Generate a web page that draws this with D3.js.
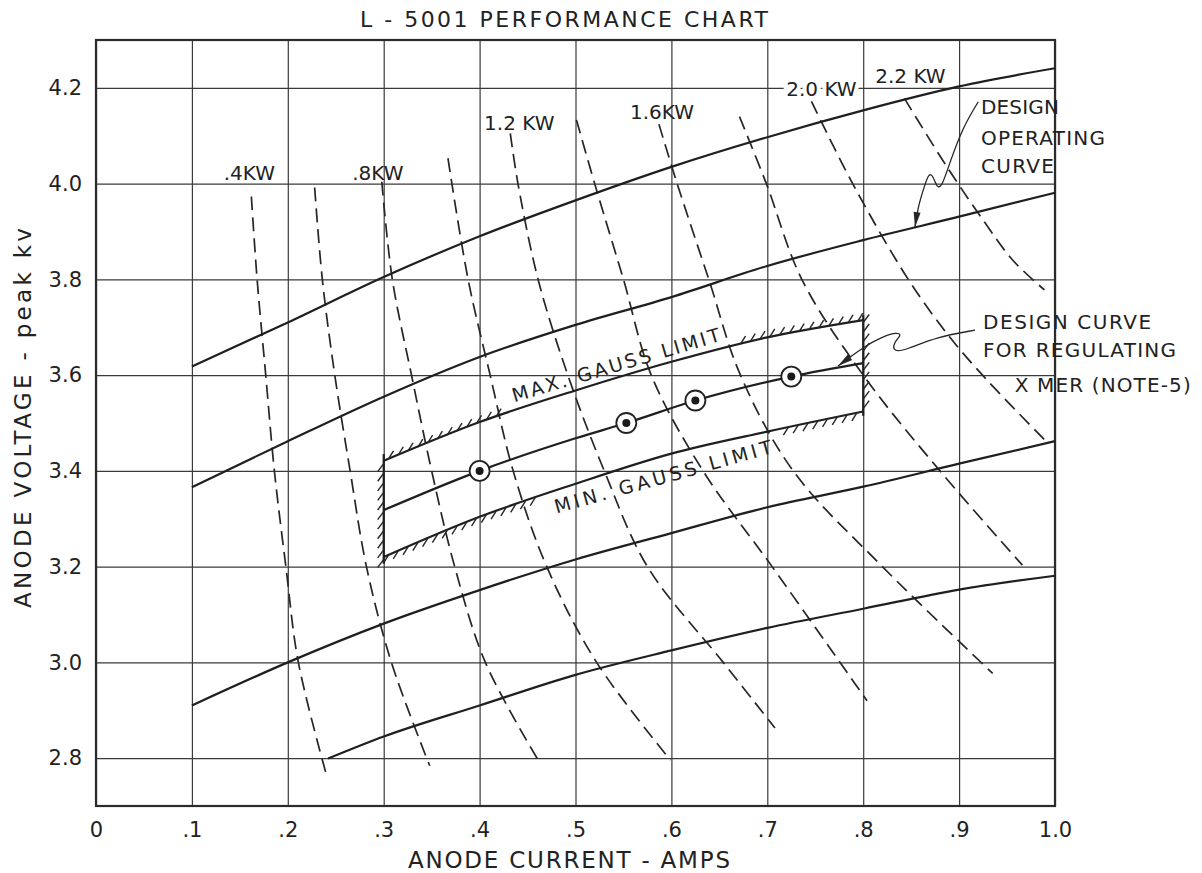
<!DOCTYPE html>
<html>
<head>
<meta charset="utf-8">
<style>
  body { margin: 0; background: #fff; }
  svg { display: block; }
  text { font-family: "DejaVu Sans", sans-serif; fill: #222; }
  .grid line { stroke: #3a3a3a; stroke-width: 1.2; }
  .grid text { font-size: 21px; }
  .frame { fill: none; stroke: #2b2b2b; stroke-width: 2.2; }
  .solid { fill: none; stroke: #1f1f1f; stroke-width: 2.2; }
  .power { fill: none; stroke: #262626; stroke-width: 1.7; stroke-dasharray: 14 7; }
  .hatch { stroke: #262626; stroke-width: 1.4; }
  .leader { fill: none; stroke: #262626; stroke-width: 1.3; }
  .arrow { fill: #262626; stroke: none; }
  .kw { font-size: 20px; }
  .note { font-size: 20px; }
  .limit { font-size: 19px; }
  .title { font-size: 22px; }
  .axis-title { font-size: 23px; }
</style>
</head>
<body>
<svg id="chart"></svg>
<script src="https://cdn.jsdelivr.net/npm/d3@7"></script>
<script>
'use strict';

var width = 1202,
    height = 873;
var margin = {top: 40, right: 147, bottom: 67, left: 96};
var innerW = width - margin.left - margin.right,
    innerH = height - margin.top - margin.bottom;

// axes
var currentTicks = [0, 0.1, 0.2, 0.3, 0.4, 0.5, 0.6, 0.7, 0.8, 0.9, 1.0];
var currentLabels = ['0', '.1', '.2', '.3', '.4', '.5', '.6', '.7', '.8', '.9', '1.0'];
var voltageTicks = [2.8, 3.0, 3.2, 3.4, 3.6, 3.8, 4.0, 4.2];
var voltageLabels = ['2.8', '3.0', '3.2', '3.4', '3.6', '3.8', '4.0', '4.2'];

// solid curves: [anode current A, anode voltage kV]
var curveTop = [[0.1, 3.618], [0.2, 3.71], [0.3, 3.805], [0.4, 3.89], [0.5, 3.965],
  [0.6, 4.035], [0.7, 4.097], [0.8, 4.153], [0.9, 4.203], [1.0, 4.241]];
var designOperating = [[0.1, 3.366], [0.2, 3.462], [0.3, 3.555], [0.4, 3.638], [0.5, 3.705],
  [0.6, 3.763], [0.7, 3.828], [0.8, 3.882], [0.9, 3.931], [1.0, 3.981]];
var curveLow = [[0.1, 2.91], [0.2, 3.0], [0.3, 3.081], [0.4, 3.151], [0.5, 3.215],
  [0.6, 3.27], [0.7, 3.324], [0.8, 3.367], [0.9, 3.415], [1.0, 3.462]];
var curveBottom = [[0.242, 2.799], [0.3, 2.845], [0.4, 2.91], [0.5, 2.974], [0.6, 3.025],
  [0.7, 3.072], [0.8, 3.112], [0.9, 3.152], [1.0, 3.181]];

// regulating transformer design curve and its gauss limits
var regulating = [[0.3, 3.318], [0.4, 3.4], [0.5, 3.468], [0.553, 3.5], [0.625, 3.547],
  [0.725, 3.597], [0.8, 3.625]];
var regulatingPoints = [[0.4, 3.4], [0.553, 3.5], [0.625, 3.547], [0.725, 3.597]];
var maxGauss = [[0.3, 3.421], [0.4, 3.502], [0.5, 3.568], [0.6, 3.628], [0.7, 3.679], [0.8, 3.715]];
var minGauss = [[0.3, 3.22], [0.4, 3.304], [0.5, 3.373], [0.6, 3.436], [0.7, 3.482], [0.8, 3.524]];

// constant power curves (dashed)
var kw04 = [[0.162, 3.973], [0.168, 3.8], [0.177, 3.6], [0.186, 3.4], [0.198, 3.2], [0.211, 3.0], [0.240, 2.767]];
var kw06 = [[0.228, 3.992], [0.236, 3.8], [0.249, 3.6], [0.265, 3.4], [0.282, 3.2], [0.308, 3.0], [0.348, 2.784]];
var kw08 = [[0.298, 4.004], [0.309, 3.8], [0.329, 3.6], [0.350, 3.4], [0.374, 3.2], [0.406, 3.0], [0.461, 2.796]];
var kw10 = [[0.367, 4.053], [0.388, 3.8], [0.411, 3.6], [0.435, 3.4], [0.470, 3.2], [0.522, 3.0], [0.599, 2.796]];
var kw12 = [[0.432, 4.105], [0.440, 4.0], [0.461, 3.8], [0.492, 3.6], [0.530, 3.4], [0.575, 3.2], [0.654, 3.0], [0.708, 2.863]];
var kw14 = [[0.501, 4.133], [0.520, 4.0], [0.550, 3.8], [0.579, 3.6], [0.633, 3.4], [0.705, 3.2], [0.804, 2.92]];
var kw16 = [[0.587, 4.124], [0.606, 4.0], [0.639, 3.8], [0.672, 3.6], [0.727, 3.4], [0.82, 3.2], [0.935, 2.977]];
var kw18 = [[0.671, 4.14], [0.699, 4.0], [0.736, 3.8], [0.80, 3.6], [0.88, 3.4], [0.966, 3.203]];
var kw20 = [[0.746, 4.172], [0.789, 4.0], [0.847, 3.8], [0.89, 3.68], [0.929, 3.59], [0.991, 3.461]];
var kw22 = [[0.843, 4.178], [0.887, 4.036], [0.925, 3.924], [0.956, 3.84], [0.989, 3.778]];
var powerCurves = [kw04, kw06, kw08, kw10, kw12, kw14, kw16, kw18, kw20, kw22];
var powerLabels = ['.4KW', '', '.8KW', '', '1.2 KW', '', '1.6KW', '', '2.0 KW', '2.2 KW'];

// leader lines of the two notes
var operatingLeader = [[0.920, 4.171], [0.904, 4.118], [0.8905, 4.045], [0.882, 3.993], [0.877, 3.991],
  [0.873, 4.016], [0.8686, 4.022], [0.8645, 3.999], [0.857, 3.951], [0.854, 3.909]];
var regulatingLeader = [[0.9166, 3.694], [0.877, 3.680], [0.8446, 3.653], [0.8321, 3.648], [0.8311, 3.667],
  [0.8405, 3.684], [0.8352, 3.690], [0.8175, 3.678], [0.8008, 3.659], [0.7852, 3.636], [0.7737, 3.619]];

var svg = d3.select('#chart').attr('width', width).attr('height', height);
svg.append('rect').attr('width', width).attr('height', height).attr('fill', '#fff');

var g = svg.append('g').attr('transform', 'translate(' + margin.left + ',' + margin.top + ')');

var x = d3.scaleLinear().domain([0, 1]).range([0, innerW]);
var y = d3.scaleLinear().domain([2.7, 4.3]).range([innerH, 0]);

// grid + tick labels
g.append('g').attr('class', 'grid')
  .attr('transform', 'translate(0,' + innerH + ')')
  .call(d3.axisBottom(x).tickValues(currentTicks)
    .tickFormat(function(d) { return currentLabels[currentTicks.indexOf(d)]; })
    .tickSize(-innerH).tickPadding(16))
  .call(function(s) { s.select('.domain').remove(); });

g.append('g').attr('class', 'grid')
  .call(d3.axisLeft(y).tickValues(voltageTicks)
    .tickFormat(function(d) { return voltageLabels[voltageTicks.indexOf(d)]; })
    .tickSize(-innerW).tickPadding(14))
  .call(function(s) { s.select('.domain').remove(); });

g.append('rect').attr('class', 'frame').attr('width', innerW).attr('height', innerH);

var line = d3.line()
  .x(function(d) { return x(d[0]); })
  .y(function(d) { return y(d[1]); });

// dashed constant power lines
g.selectAll('path.power').data(powerCurves).enter().append('path')
  .attr('class', 'power')
  .attr('d', line.curve(d3.curveCatmullRom));

// solid curves
var solids = [curveTop, designOperating, curveLow, curveBottom, regulating, maxGauss, minGauss];
g.selectAll('path.solid').data(solids).enter().append('path')
  .attr('class', 'solid')
  .attr('d', line.curve(d3.curveMonotoneX));

// box sides of the gauss limits
g.append('line').attr('class', 'solid')
  .attr('x1', x(0.3)).attr('x2', x(0.3))
  .attr('y1', y(3.206)).attr('y2', y(3.435));
g.append('line').attr('class', 'solid')
  .attr('x1', x(0.8)).attr('x2', x(0.8))
  .attr('y1', y(3.515)).attr('y2', y(3.725));

// hatching on the outside of the box
var hatch = g.append('g').attr('class', 'hatches');
function hatchCurve(data, v0, v1, dx, dy) {
  var f = d3.scaleLinear().domain(data.map(function(d) { return d[0]; }))
    .range(data.map(function(d) { return d[1]; }));
  for (var v = v0; v <= v1 + 1e-9; v += 0.0102) {
    var px = x(v), py = y(f(v));
    hatch.append('line').attr('class', 'hatch')
      .attr('x1', px).attr('y1', py).attr('x2', px + dx).attr('y2', py + dy);
  }
}
function hatchSide(amps, k0, k1, dx, dy) {
  for (var k = k0; k <= k1 + 1e-9; k += 0.02) {
    var px = x(amps), py = y(k);
    hatch.append('line').attr('class', 'hatch')
      .attr('x1', px).attr('y1', py).attr('x2', px + dx).attr('y2', py + dy);
  }
}
hatchCurve(maxGauss, 0.305, 0.42, 5, -8);
hatchCurve(maxGauss, 0.672, 0.80, 5, -8);
hatchCurve(minGauss, 0.305, 0.46, -5, 8);
hatchCurve(minGauss, 0.722, 0.80, -5, 8);
hatchSide(0.3, 3.215, 3.42, -6, 8);
hatchSide(0.8, 3.53, 3.715, 6, -8);

// circled design points
var pts = g.selectAll('g.pt').data(regulatingPoints).enter().append('g')
  .attr('transform', function(d) { return 'translate(' + x(d[0]) + ',' + y(d[1]) + ')'; });
pts.append('circle').attr('r', 10).attr('fill', '#fff').attr('stroke', '#222').attr('stroke-width', 1.8);
pts.append('circle').attr('r', 4).attr('fill', '#1a1a1a');

// power labels, placed just above the top of each dashed line
var labelOffset = [[-2, -17], null, [-4, -2], null, [9, -3], null, [3, -5], null, [10, -5], [6, -15]];
powerCurves.forEach(function(c, i) {
  if (!powerLabels[i]) return;
  var px = x(c[0][0]) + labelOffset[i][0],
      py = y(c[0][1]) + labelOffset[i][1];
  var crossesGrid = voltageTicks.some(function(v) { var gy = y(v); return gy < py - 2 && gy > py - 15; });
  g.append('text').attr('class', 'kw')
    .attr('x', px).attr('y', py).attr('text-anchor', 'middle')
    .style('paint-order', 'stroke')
    .style('stroke', crossesGrid ? '#fff' : 'none')
    .style('stroke-width', crossesGrid ? 8 : 0)
    .text(powerLabels[i]);
});

// rotated labels along the gauss limits
function slopedText(data, v0, v1, offset, text, len) {
  var f = d3.scaleLinear().domain(data.map(function(d) { return d[0]; }))
    .range(data.map(function(d) { return d[1]; }));
  var ax = x(v0), ay = y(f(v0)), bx = x(v1), by = y(f(v1));
  var a = Math.atan2(by - ay, bx - ax);
  var nx = Math.sin(a), ny = -Math.cos(a);
  var tx = ax + nx * offset, ty = ay + ny * offset;
  g.append('text').attr('class', 'limit')
    .attr('transform', 'translate(' + tx + ',' + ty + ') rotate(' + (a * 180 / Math.PI) + ')')
    .attr('textLength', len).attr('lengthAdjust', 'spacing')
    .text(text);
}
slopedText(maxGauss, 0.4385, 0.656, 8, 'MAX. GAUSS LIMIT', 216);
slopedText(minGauss, 0.474, 0.701, -22, 'MIN. GAUSS LIMIT', 225);

// leaders with arrow heads
function leader(data) {
  g.append('path').attr('class', 'leader')
    .attr('d', line.curve(d3.curveBasis)(data));
  var n = data.length;
  var tipX = x(data[n - 1][0]), tipY = y(data[n - 1][1]);
  var fromX = x(data[n - 2][0]), fromY = y(data[n - 2][1]);
  var a = Math.atan2(tipY - fromY, tipX - fromX);
  var L = 15, w = 3.5;
  var bx = tipX - L * Math.cos(a), by = tipY - L * Math.sin(a);
  g.append('path').attr('class', 'arrow')
    .attr('d', 'M' + tipX + ',' + tipY +
      'L' + (bx + w * Math.sin(a)) + ',' + (by - w * Math.cos(a)) +
      'L' + (bx - w * Math.sin(a)) + ',' + (by + w * Math.cos(a)) + 'Z');
}
leader(operatingLeader);
leader(regulatingLeader);

// notes
var note1 = g.append('text').attr('class', 'note');
note1.append('tspan').attr('x', x(0.9228)).attr('y', y(4.146)).attr('textLength', 78).text('DESIGN');
note1.append('tspan').attr('x', x(0.9228)).attr('y', y(4.081)).attr('textLength', 124).text('OPERATING');
note1.append('tspan').attr('x', x(0.9228)).attr('y', y(4.022)).attr('textLength', 73).text('CURVE');

var note2 = g.append('text').attr('class', 'note');
note2.append('tspan').attr('x', x(0.925)).attr('y', y(3.696)).attr('textLength', 168).text('DESIGN CURVE');
note2.append('tspan').attr('x', x(0.925)).attr('y', y(3.637)).attr('textLength', 193).text('FOR REGULATING');
note2.append('tspan').attr('x', x(0.958)).attr('y', y(3.564)).attr('textLength', 176).text('X MER (NOTE-5)');

// titles
svg.append('text').attr('class', 'title')
  .attr('x', 360).attr('y', 27)
  .attr('textLength', 408).attr('lengthAdjust', 'spacing')
  .text('L - 5001   PERFORMANCE   CHART');

svg.append('text').attr('class', 'axis-title')
  .attr('x', 408).attr('y', 868)
  .attr('textLength', 322).attr('lengthAdjust', 'spacing')
  .text('ANODE  CURRENT  -  AMPS');

svg.append('text').attr('class', 'axis-title')
  .attr('transform', 'translate(31,418) rotate(-90)')
  .attr('text-anchor', 'middle')
  .attr('textLength', 380).attr('lengthAdjust', 'spacing')
  .text('ANODE  VOLTAGE  -  peak  kv');
</script>
</body>
</html>
